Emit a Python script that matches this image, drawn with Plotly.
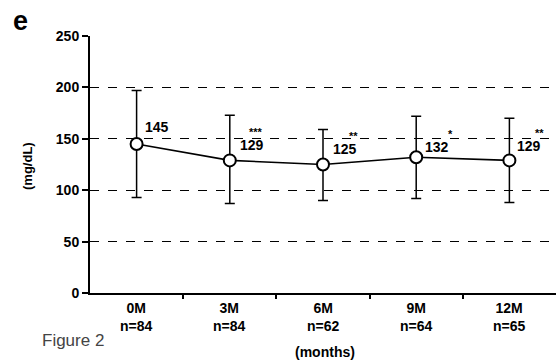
import plotly.graph_objects as go

# ---- data ----
months = ["0M", "3M", "6M", "9M", "12M"]
n_counts = ["n=84", "n=84", "n=62", "n=64", "n=65"]
means = [145, 129, 125, 132, 129]
upper = [197, 173, 159, 172, 170]
lower = [93, 87, 90, 92, 88]
stars = ["", "***", "**", "*", "**"]
y_ticks = [0, 50, 100, 150, 200, 250]

# ---- geometry helpers (plot area in pixels) ----
L, R, T, B = 90, 556, 36, 293
W, H = 558, 360
def px(xp):
    return (xp - L) / (R - L)
def py(yp):
    return (B - yp) / (B - T)

FONT = "Arial, Liberation Sans, Helvetica, sans-serif"
xs = list(range(len(months)))

fig = go.Figure()
fig.add_trace(go.Scatter(
    x=xs, y=means, mode="lines+markers",
    line=dict(color="black", width=1.6),
    marker=dict(symbol="circle", size=12, color="white",
                line=dict(color="black", width=2)),
    error_y=dict(type="data", symmetric=False,
                 array=[u - m for u, m in zip(upper, means)],
                 arrayminus=[m - l for m, l in zip(means, lower)],
                 color="black", thickness=1.5, width=5),
    showlegend=False, cliponaxis=False, hoverinfo="skip",
))

annots = []
# value labels: pixel offsets above each point (style)
label_dy = [17, 15, 16, 10, 14]
label_dx = [6, 8, 8, 7, 6]
star_dx = [0, 26, 30, 34, 30]
for i, (m, s) in enumerate(zip(means, stars)):
    annots.append(dict(x=i, y=m, xref="x", yref="y", text=str(m),
                       showarrow=False, xanchor="left", yanchor="middle",
                       xshift=label_dx[i], yshift=label_dy[i],
                       font=dict(family=FONT, size=14, color="black", weight="bold")))
    if s:
        annots.append(dict(x=i, y=m, xref="x", yref="y", text=s,
                           showarrow=False, xanchor="center", yanchor="middle",
                           xshift=star_dx[i], yshift=label_dy[i] + 13,
                           font=dict(family=FONT, size=11, color="black", weight="bold")))

# category labels
for i, (mo, n) in enumerate(zip(months, n_counts)):
    annots.append(dict(x=i, y=py(316.5), xref="x", yref="paper",
                       text=f"{mo}<br>{n}", showarrow=False,
                       xanchor="center", yanchor="middle",
                       font=dict(family=FONT, size=14, color="black", weight="bold")))

annots += [
    dict(x=px(325), y=py(352), xref="paper", yref="paper", text="(months)",
         showarrow=False, xanchor="center", yanchor="middle",
         font=dict(family=FONT, size=14, color="black", weight="bold")),
    dict(x=px(27), y=py(166), xref="paper", yref="paper", text="(mg/dL)",
         showarrow=False, xanchor="center", yanchor="middle", textangle=-90,
         font=dict(family=FONT, size=13, color="black", weight="bold")),
    dict(x=px(20), y=py(21), xref="paper", yref="paper", text="e",
         showarrow=False, xanchor="center", yanchor="middle",
         font=dict(family=FONT, size=27, color="black", weight="bold")),
    dict(x=px(40), y=py(340), xref="paper", yref="paper", text="Figure 2",
         showarrow=False, xanchor="left", yanchor="middle",
         font=dict(family=FONT, size=17, color="#444")),
]

fig.update_layout(
    width=W, height=H,
    margin=dict(l=L, r=W - R, t=T, b=H - B, pad=0),
    paper_bgcolor="white", plot_bgcolor="white",
    annotations=annots,
    xaxis=dict(range=[-0.5, 4.5], showgrid=False, zeroline=False,
               showline=True, linecolor="black", linewidth=2,
               tickvals=[0.5, 1.5, 2.5, 3.5], ticktext=["", "", "", ""],
               ticks="outside", ticklen=4, tickwidth=1.5, tickcolor="black"),
    yaxis=dict(range=[0, 250], tickvals=y_ticks,
               showgrid=True, gridcolor="black", gridwidth=1.3, griddash="dash",
               zeroline=False, showline=True, linecolor="black", linewidth=2,
               ticks="outside", ticklen=6, tickwidth=1.5, tickcolor="black",
               tickfont=dict(family=FONT, size=14, color="black", weight="bold")),
)

fig.write_html("out.html", config={"displayModeBar": False},
               post_script="document.body.style.margin='0px';document.body.style.overflow='hidden';")
